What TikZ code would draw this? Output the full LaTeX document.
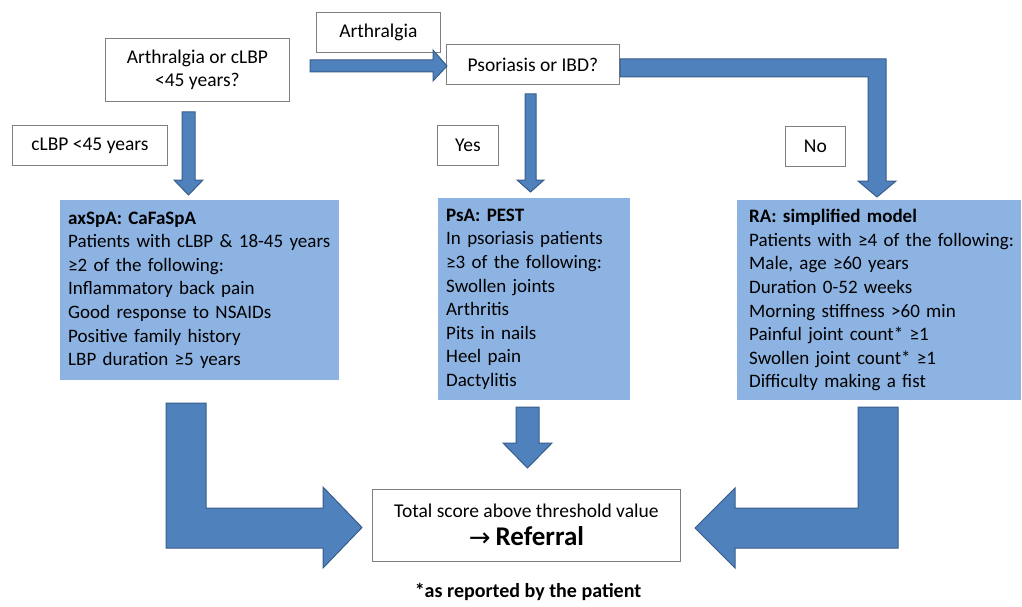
\documentclass[tikz,border=0pt]{standalone}
\usepackage{fontspec}
\setmainfont{Carlito}
\newfontfamily\symfont{DejaVu Sans}
\definecolor{arrowfill}{HTML}{4F81BD}
\definecolor{arrowline}{HTML}{385D8A}
\definecolor{boxblue}{HTML}{8DB3E2}
\definecolor{boxline}{HTML}{7F7F7F}
\begin{document}
\begin{tikzpicture}[x=1pt,y=-1pt,
  txt/.style={font=\fontsize{19.5}{23.5}\selectfont},
  btxt/.style={font=\fontsize{19}{23.6}\selectfont},
  whitebox/.style={txt,draw=boxline,fill=white,line width=0.8pt,anchor=north west,inner sep=0pt,align=center},
  bluebox/.style={btxt,fill=boxblue,anchor=north west,inner xsep=8pt,inner ysep=0pt,align=left},
  blockarrow/.style={fill=arrowfill,draw=arrowline,line width=1pt,line join=miter}]
\useasboundingbox (0,0) rectangle (1022,607);

% question and label boxes
\node[whitebox,minimum width=184,minimum height=63] (q1) at (105,38) {Arthralgia or cLBP\\[-1pt]<45 years?};
\node[whitebox,minimum width=124,minimum height=40] (lArth) at (316,12) {Arthralgia};
\node[whitebox,minimum width=173,minimum height=40] (q2) at (446,44) {Psoriasis or IBD?};
\node[whitebox,minimum width=155,minimum height=40] (lClbp) at (12,125) {cLBP <45 years};
\node[whitebox,minimum width=61,minimum height=40] (lYes) at (437,125) {Yes};
\node[whitebox,minimum width=60,minimum height=40] (lNo) at (785,126) {No};

% blue criteria boxes
\node[bluebox,minimum width=279,minimum height=180,text width=263] (ax) at (60,200)
 {\textbf{axSpA: CaFaSpA}\\
  \mbox{Patients with cLBP \& 18-45 years}\\
  ≥2 of the following:\\
  Inflammatory back pain\\
  Good response to NSAIDs\\
  Positive family history\\
  LBP duration ≥5 years};
\node[bluebox,minimum width=192,minimum height=202,text width=176] (psa) at (438,198)
 {\textbf{PsA: PEST}\\
  In psoriasis patients\\
  ≥3 of the following:\\
  Swollen joints\\
  Arthritis\\
  Pits in nails\\
  Heel pain\\
  Dactylitis};
\node[bluebox,inner xsep=12pt,minimum width=284,minimum height=200,text width=260] (ra) at (737,200)
 {\textbf{RA: simplified model}\\
  \mbox{Patients with ≥4 of the following:}\\
  Male, age ≥60 years\\
  Duration 0-52 weeks\\
  Morning stiffness >60 min\\
  Painful joint count* ≥1\\
  Swollen joint count* ≥1\\
  Difficulty making a fist};

% referral box
\node[whitebox,minimum width=308,minimum height=72] (ref) at (372,489)
 {{\fontsize{19.5}{20}\selectfont Total score above threshold value}\\[4pt]
  {\fontsize{27}{28}\selectfont{\symfont\fontsize{26}{28}\selectfont\raisebox{-1pt}{→}}\kern5pt\textbf{Referral}}};

\node[font=\fontsize{20}{22}\selectfont\bfseries,anchor=base] (foot) at (528,597) {*as reported by the patient};

% block arrows
% q1 -> q2
\draw[blockarrow] (310,60) -- (433,60) -- (433,50) -- (447,66) -- (433,81) -- (433,72) -- (310,72) -- cycle;
% q1 -> ax
\draw[blockarrow] (182,112) -- (195,112) -- (195,180) -- (203,180) -- (188.5,195) -- (174,180) -- (182,180) -- cycle;
% q2 -> psa
\draw[blockarrow] (525,94) -- (536,94) -- (536,180) -- (544,180) -- (530.5,192) -- (517,180) -- (525,180) -- cycle;
% q2 -> ra (bent)
\draw[blockarrow] (620,59) -- (886,59) -- (886,181) -- (896,181) -- (877,197) -- (858,181) -- (868,181) -- (868,77) -- (620,77) -- cycle;
% ax -> ref (L)
\draw[blockarrow] (166,403) -- (206,403) -- (206,508) -- (323,508) -- (323,487) -- (362,527.5) -- (323,568) -- (323,548) -- (166,548) -- cycle;
% psa -> ref
\draw[blockarrow] (516,407) -- (539,407) -- (539,443) -- (552,443) -- (527.5,468) -- (503,443) -- (516,443) -- cycle;
% ra -> ref (L)
\draw[blockarrow] (898,407) -- (858,407) -- (858,508) -- (735,508) -- (735,488) -- (695,528) -- (735,568) -- (735,548) -- (898,548) -- cycle;
\end{tikzpicture}
\end{document}
